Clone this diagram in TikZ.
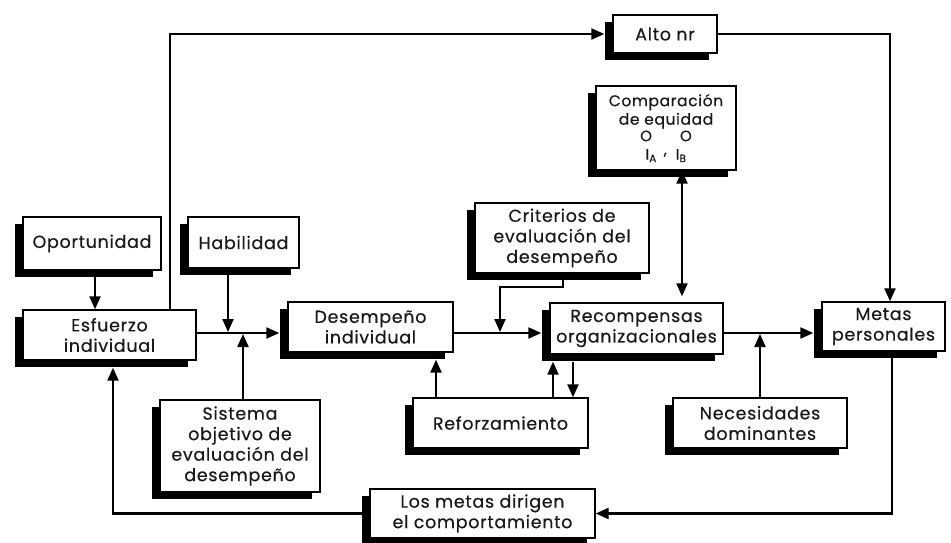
\documentclass[tikz,border=0pt]{standalone}
\usepackage{fontspec}
\setmainfont{Poppins}[LetterSpace=4, FakeBold=0.4]
\usetikzlibrary{arrows.meta,shadows}

\begin{document}
\begin{tikzpicture}[x=1pt,y=-1pt,
  box/.style={draw=black, line width=1.4pt, fill=white, align=center,
    text=black!90, font=\fontsize{17.5}{20.5}\selectfont, inner sep=2pt,
    general shadow={fill=black, shadow xshift=-8pt, shadow yshift=-7pt}},
  link/.style={line width=2.2pt, line join=miter},
  tip/.tip={Triangle[length=13pt,width=11pt]},
  conn/.style={link, -tip},
  both/.style={link, tip-tip},
  intoside/.style={shorten >=8pt},
  intobase/.style={shorten >=7pt},
]
\useasboundingbox (0,0) rectangle (951,542);
\fill[white] (0,0) rectangle (951,542);

% boxes
\node[box, minimum width=138pt, minimum height=53pt] (opo)  at (92,243.5)   {Oportunidad};
\node[box, minimum width=111pt, minimum height=51pt] (hab)  at (243.5,242.5) {Habilidad};
\node[box, minimum width=173pt, minimum height=50pt] (esf)  at (109.5,335)  {Esfuerzo\\individual};
\node[box, minimum width=104pt, minimum height=38pt] (alto) at (665,34)     {Alto nr};
\node[box, minimum width=140pt, minimum height=84pt, inner sep=1pt,
      font=\fontsize{15.5}{18.5}\selectfont] (comp) at (666,128)
  {Comparación\\de equidad\\[-2pt]
   \fontsize{15}{16}\selectfont O\hspace{28pt}O\\
   \fontsize{15}{16}\selectfont I\textsubscript{A}\hspace{7pt}\raisebox{5pt}{,}\hspace{9pt}I\textsubscript{B}};
\node[box, minimum width=174pt, minimum height=70pt] (crit) at (562,238)    {Criterios de\\evaluación del\\desempeño};
\node[box, minimum width=165pt, minimum height=50pt] (des)  at (370.5,327)  {Desempeño\\individual};
\node[box, minimum width=173pt, minimum height=51pt] (rec)  at (636.5,328.5) {Recompensas\\organizacionales};
\node[box, minimum width=123pt, minimum height=49pt] (met)  at (883.5,326.5) {Metas\\personales};
\node[box, minimum width=174pt, minimum height=50pt] (nec)  at (760,423)    {Necesidades\\dominantes};
\node[box, minimum width=175pt, minimum height=50pt] (ref)  at (500.5,423)  {Reforzamiento};
\node[box, minimum width=160pt, minimum height=92pt] (sis)  at (240,446)    {Sistema\\objetivo de\\evaluación del\\desempeño};
\node[box, minimum width=225pt, minimum height=49pt] (los)  at (482.5,513.5) {Los metas dirigen\\el comportamiento};

% main flow
\draw[conn, intoside] (esf.east |- 0,333) -- (des.west |- 0,333);
\draw[conn, intoside] (des.east |- 0,333) -- (rec.west |- 0,333);
\draw[conn, intoside] (rec.east |- 0,333) -- (met.west |- 0,333);

% inputs to the main flow
\draw[conn] (95,0 |- opo.south) ++(0,6) -- (95,0 |- esf.north);
\draw[conn] (228,0 |- hab.south) ++(0,6) -- (228,332);
\draw[conn] (243,0 |- sis.north) -- (243,334);
\draw[conn] (563,0 |- crit.south) ++(0,6) -- (563,287) -- (500,287) -- (500,332);
\draw[conn] (760,0 |- nec.north) -- (760,334);

% reinforcement
\draw[conn, intobase] (436,0 |- ref.north) -- (436,0 |- des.south);
\draw[conn, intobase] (553,0 |- ref.north) -- (553,0 |- rec.south);
\draw[conn] (573,0 |- rec.south) ++(0,7) -- (573,0 |- ref.north);

% equity comparison
\draw[both, shorten <=6pt] (682,0 |- rec.north) -- (682,0 |- comp.south);

% upper loop through "Alto nr"
\draw[conn, intoside] (170,0 |- esf.north) |- (alto.west);
\draw[conn] (alto.east) -| (890,0 |- met.north);

% lower feedback loop
\draw[conn] (892,0 |- met.south) ++(0,6) |- (los.east);
\draw[conn, intobase] (los.west) -| (113,0 |- esf.south);
\end{tikzpicture}
\end{document}
